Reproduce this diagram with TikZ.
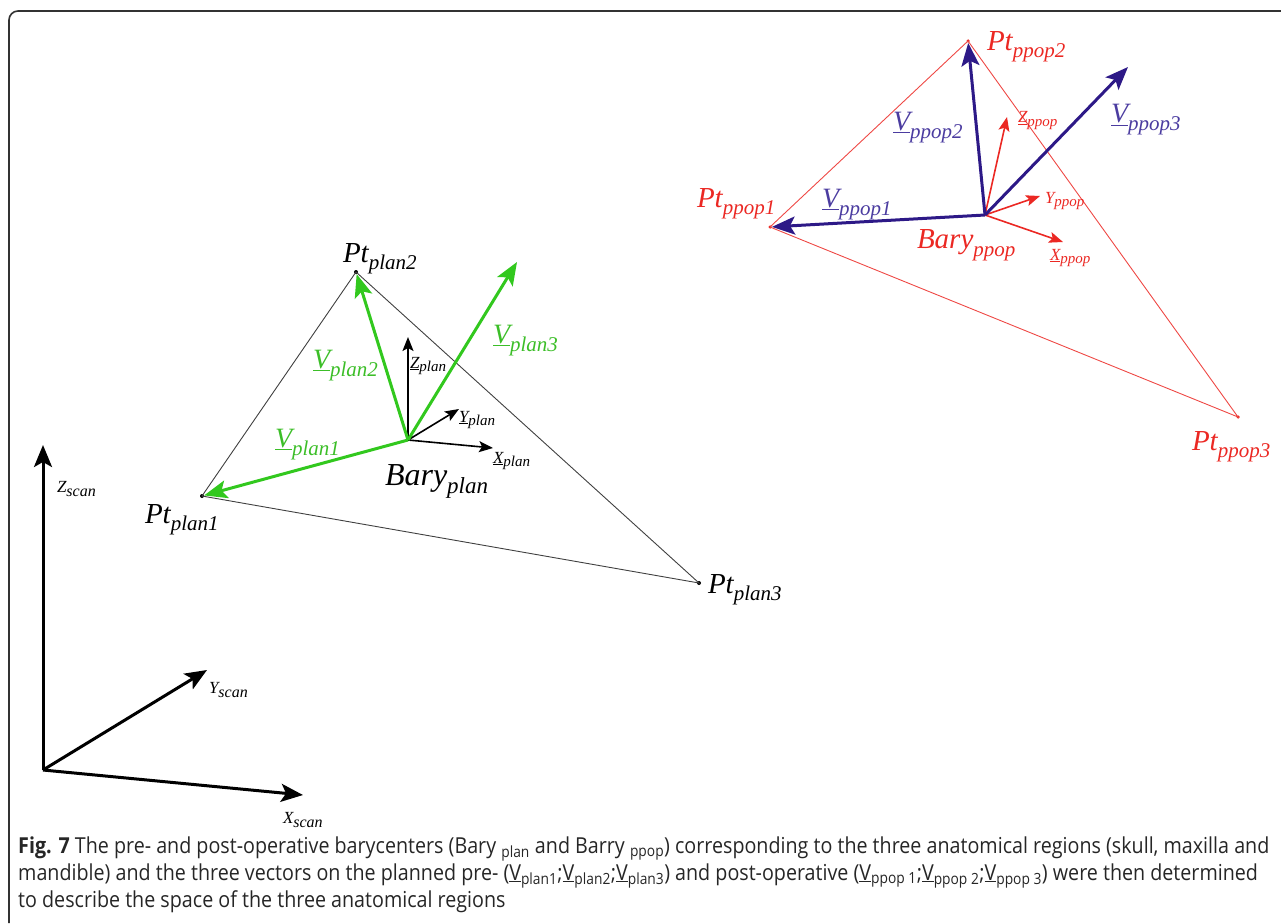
\documentclass[tikz,border=0pt]{standalone}
\usepackage{fontspec}
\setmainfont{Liberation Serif}
\newfontfamily\capfont{Open Sans}[FakeStretch=0.895]
\usetikzlibrary{arrows.meta}
\definecolor{vgreen}{RGB}{50,200,30}
\definecolor{lgreen}{RGB}{60,190,40}
\definecolor{navy}{RGB}{45,25,135}
\definecolor{lnavy}{RGB}{75,60,160}
\definecolor{rred}{RGB}{235,40,35}
\definecolor{frame}{RGB}{50,50,50}
% big label: main text, subscript, main size, sub size, drop
\newcommand\blab[5]{{\fontsize{#3}{#3}\selectfont\itshape #1\raisebox{-#5}{\fontsize{#4}{#4}\selectfont #2}}}
\newcommand\vlab[1]{\blab{\underline{V}}{#1}{28}{21}{8pt}}
\newcommand\ptlab[1]{\blab{Pt}{#1}{29}{21}{7pt}}
\newcommand\alab[2]{\blab{\underline{#1}}{#2}{17}{15}{3pt}}
\newcommand\slab[2]{\blab{#1}{#2}{17}{16}{4pt}}
\tikzset{
  lbl/.style={anchor=base west, inner sep=0pt, outer sep=0pt},
  gvec/.style={line width=3pt, vgreen, -{Stealth[length=23pt,width=18pt,inset=5pt]}},
  nvec/.style={line width=3pt, navy, -{Stealth[length=23pt,width=18pt,inset=5pt]}},
  pax/.style={line width=1.6pt, black, -{Stealth[length=14pt,width=11pt,inset=3pt]}},
  rax/.style={line width=1.6pt, rred, -{Stealth[length=14pt,width=11pt,inset=3pt]}},
  sax/.style={line width=3pt, black, -{Stealth[length=22pt,width=18pt,inset=5pt]}},
  btri/.style={line width=0.9pt, black!75},
  rtri/.style={line width=0.9pt, rred!85},
  dot/.style={circle, fill, inner sep=0pt, minimum size=4pt},
  capline/.style={anchor=base west, inner sep=0pt, font=\capfont\fontsize{22}{26}\selectfont, text=black!85}
}
\begin{document}
\begin{tikzpicture}[x=1pt,y=-1pt]
\useasboundingbox (0,0) rectangle (1281,923);
% frame
\draw[line width=1.6pt, frame] (9,923) -- (9,20) arc[start angle=180,end angle=270,radius=9] -- (1281,11);

% ---- scan axes
\coordinate (O) at (43,770);
\coordinate (Zs) at (43,445);
\coordinate (Ys) at (207,670);
\coordinate (Xs) at (303,795);
\draw[sax] (O) -- (Zs);
\draw[sax] (O) -- (Ys);
\draw[sax] (O) -- (Xs);
\node[lbl] (zscan) at (57,492) {\slab{Z}{scan}};
\node[lbl] (yscan) at (209,693) {\slab{Y}{scan}};
\node[lbl] (xscan) at (283,823) {\slab{X}{scan}};

% ---- planned
\node[dot] (P1) at (202,496) {};
\node[dot] (P2) at (356,272) {};
\node[dot] (P3) at (699,583) {};
\coordinate (B) at (408,440);
\draw[btri] (P1.center) -- (P2.center) -- (P3.center) -- cycle;
\coordinate (V3) at (517,262);
\coordinate (Zp) at (408,337);
\coordinate (Yp) at (459,409);
\coordinate (Xp) at (493,448);
\draw[pax] (B) -- (Zp);
\draw[pax] (B) -- (Yp);
\draw[pax] (B) -- (Xp);
\draw[gvec] (B) -- (P1);
\draw[gvec] (B) -- (P2);
\draw[gvec] (B) -- (V3);
\node[lbl] (lp1) at (145,523) {\ptlab{plan1}};
\node[lbl] (lp2) at (343,262) {\ptlab{plan2}};
\node[lbl] (lp3) at (708,593) {\ptlab{plan3}};
\node[lbl] (lb) at (385,485) {\blab{Bary}{plan}{32}{23}{8pt}};
\node[lbl, text=lgreen] (lv1) at (275,447) {\vlab{plan1}};
\node[lbl, text=lgreen] (lv2) at (313,368) {\vlab{plan2}};
\node[lbl, text=lgreen] (lv3) at (493,343) {\vlab{plan3}};
\node[lbl] (lz) at (410,368) {\alab{Z}{plan}};
\node[lbl] (ly) at (459,422) {\alab{Y}{plan}};
\node[lbl] (lx) at (493,463) {\alab{X}{plan}};

% ---- post-op
\node[dot, rred, minimum size=3.5pt] (R1) at (770,227) {};
\node[dot, rred, minimum size=3.5pt] (R2) at (968,41) {};
\node[dot, rred, minimum size=3.5pt] (R3) at (1238,417) {};
\coordinate (RB) at (985,215);
\draw[rtri] (R1.center) -- (R2.center) -- (R3.center) -- cycle;
\coordinate (RV3) at (1128,67);
\coordinate (Zr) at (1007,117);
\coordinate (Yr) at (1040,196);
\coordinate (Xr) at (1063,242);
\draw[rax] (RB) -- (Zr);
\draw[rax] (RB) -- (Yr);
\draw[rax] (RB) -- (Xr);
\draw[nvec] (RB) -- (R1);
\draw[nvec] (RB) -- (R2);
\draw[nvec] (RB) -- (RV3);
\node[lbl, text=rred] (lr1) at (697,207) {\ptlab{ppop1}};
\node[lbl, text=rred] (lr2) at (987,51) {\ptlab{ppop2}};
\node[lbl, text=rred] (lr3) at (1192,450) {\ptlab{ppop3}};
\node[lbl, text=rred] (lrb) at (917,248) {\blab{Bary}{ppop}{29}{21}{8pt}};
\node[lbl, text=lnavy] (lrv1) at (822,207) {\vlab{ppop1}};
\node[lbl, text=lnavy] (lrv2) at (893,130) {\vlab{ppop2}};
\node[lbl, text=lnavy] (lrv3) at (1111,123) {\vlab{ppop3}};
\node[lbl, text=rred] (lrz) at (1018,123) {\alab{Z}{ppop}};
\node[lbl, text=rred] (lry) at (1045,203) {\blab{Y}{ppop}{17}{15}{3pt}};
\node[lbl, text=rred] (lrx) at (1050,260) {\alab{X}{ppop}};

% ---- caption
\node[capline] (c1) at (18,853) {\textbf{Fig. 7} The pre- and post-operative barycenters (Bary \textsubscript{plan} and Barry \textsubscript{ppop}) corresponding to the three anatomical regions (skull, maxilla and};
\node[capline] (c2) at (18,880) {mandible) and the three vectors on the planned pre- (\underline{V}\textsubscript{plan1};\underline{V}\textsubscript{plan2};\underline{V}\textsubscript{plan3}) and post-operative (\underline{V}\textsubscript{ppop 1};\underline{V}\textsubscript{ppop 2};\underline{V}\textsubscript{ppop 3}) were then determined};
\node[capline] (c3) at (18,907) {to describe the space of the three anatomical regions};
\end{tikzpicture}
\end{document}
